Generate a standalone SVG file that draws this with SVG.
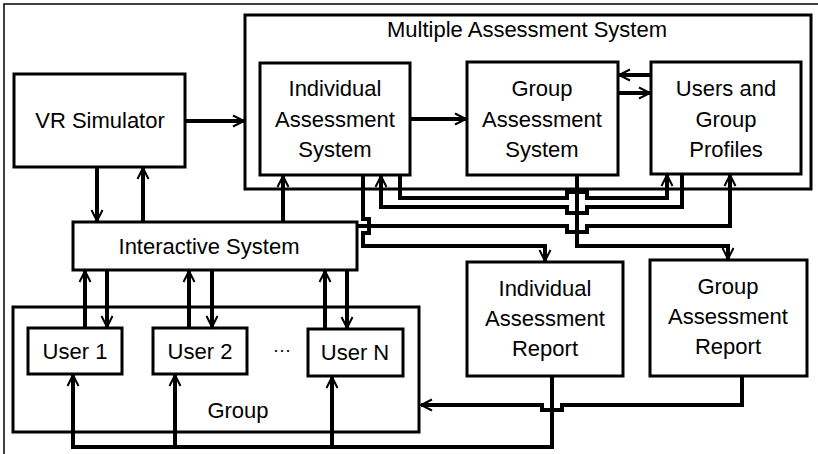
<svg xmlns="http://www.w3.org/2000/svg" width="818" height="454" viewBox="0 0 818 454">
  <style>
    .box { fill: #fff; stroke: #000; stroke-width: 3; }
    .lbl { font-family: "Liberation Sans", Arial, sans-serif; font-size: 22px; fill: #000; text-anchor: middle; }
    .wire { fill: none; stroke: #000; stroke-width: 4; stroke-linejoin: miter; }
    .arr { marker-end: url(#open); }
  </style>
  <defs>
    <marker id="open" markerUnits="userSpaceOnUse" markerWidth="16" markerHeight="16" viewBox="0 0 16 16" refX="14" refY="8" orient="auto" overflow="visible">
      <path d="M3,2.5 L14,8 L3,13.5" fill="none" stroke="#000" stroke-width="2"/>
    </marker>
  </defs>

  <rect width="818" height="454" fill="#fff"/>
  <!-- outer frame -->
  <path d="M4,454 V4 H818" fill="none" stroke="#000" stroke-width="1.5"/>

  <g id="mas">
    <rect class="box" x="245" y="15" width="566" height="174"/>
    <text class="lbl" x="527" y="37">Multiple Assessment System</text>
  </g>

  <g id="vr-simulator">
    <rect class="box" x="14" y="74" width="171" height="93"/>
    <text class="lbl" x="100" y="128">VR Simulator</text>
  </g>

  <g id="individual-assessment-system">
    <rect class="box" x="260" y="63" width="150" height="112"/>
    <text class="lbl" x="335" y="96">Individual</text>
    <text class="lbl" x="335" y="127">Assessment</text>
    <text class="lbl" x="335" y="157">System</text>
  </g>

  <g id="group-assessment-system">
    <rect class="box" x="467" y="62" width="151" height="113"/>
    <text class="lbl" x="542" y="96">Group</text>
    <text class="lbl" x="542" y="127">Assessment</text>
    <text class="lbl" x="542" y="157">System</text>
  </g>

  <g id="profiles">
    <rect class="box" x="651" y="62" width="150" height="112"/>
    <text class="lbl" x="726" y="96">Users and</text>
    <text class="lbl" x="726" y="127">Group</text>
    <text class="lbl" x="726" y="157">Profiles</text>
  </g>

  <g id="interactive-system">
    <rect class="box" x="73" y="222" width="284" height="48"/>
    <text class="lbl" x="209" y="254">Interactive System</text>
  </g>

  <g id="group">
    <rect class="box" x="13" y="307" width="406" height="125"/>
    <text class="lbl" x="238" y="418">Group</text>
  </g>

  <g id="user-1">
    <rect class="box" x="28" y="328" width="94" height="46"/>
    <text class="lbl" x="75" y="359">User 1</text>
  </g>

  <g id="user-2">
    <rect class="box" x="153" y="328" width="94" height="46"/>
    <text class="lbl" x="200" y="359">User 2</text>
  </g>

  <g id="ellipsis">
    <text class="lbl" x="282" y="356" style="font-size:18px">···</text>
  </g>

  <g id="user-n">
    <rect class="box" x="308" y="329" width="95" height="47"/>
    <text class="lbl" x="355" y="360">User N</text>
  </g>

  <g id="individual-report">
    <rect class="box" x="467" y="262" width="156" height="114"/>
    <text class="lbl" x="545" y="296">Individual</text>
    <text class="lbl" x="545" y="326">Assessment</text>
    <text class="lbl" x="545" y="356">Report</text>
  </g>

  <g id="group-report">
    <rect class="box" x="650" y="260" width="157" height="116"/>
    <text class="lbl" x="728" y="294">Group</text>
    <text class="lbl" x="728" y="324">Assessment</text>
    <text class="lbl" x="728" y="354">Report</text>
  </g>

  <g id="connectors">
    <!-- top level flow -->
    <path class="wire arr" d="M185,121 H244"/>
    <path class="wire arr" d="M410,119 H466"/>
    <path class="wire arr" d="M651,75 H619"/>
    <path class="wire arr" d="M618,93 H650"/>
    <!-- VR simulator and interactive system -->
    <path class="wire arr" d="M97,167 V221"/>
    <path class="wire arr" d="M143,222 V168"/>
    <path class="wire arr" d="M283,222 V176"/>
    <!-- users up to interactive system -->
    <path class="wire arr" d="M85,328 V271"/>
    <path class="wire arr" d="M189,328 V271"/>
    <path class="wire arr" d="M325,329 V271"/>
    <!-- interactive system down to users -->
    <path class="wire arr" d="M107,270 V327"/>
    <path class="wire arr" d="M212,270 V327"/>
    <path class="wire arr" d="M347,270 V328"/>
    <!-- assessment routing with square jumps -->
    <path class="wire arr" d="M363,175 V219 H369 V233 H363 V246 H545 V261"/>
    <path class="wire arr" d="M400,175 V198 H567 V192 H587 V198 H667 V175"/>
    <path class="wire arr" d="M682,174 V207 H587 V213 H567 V207 H381 V176"/>
    <path class="wire arr" d="M357,226 H567 V232 H587 V226 H730 V175"/>
    <path class="wire arr" d="M577,175 V246 H728 V259"/>
    <!-- reports feedback -->
    <path class="wire arr" d="M742,376 V405 H562 V410 H542 V405 H421"/>
    <path class="wire arr" d="M552,376 V447 H73 V375"/>
    <path class="wire arr" d="M175,447 V375"/>
    <path class="wire arr" d="M332,447 V377"/>
  </g>
</svg>
